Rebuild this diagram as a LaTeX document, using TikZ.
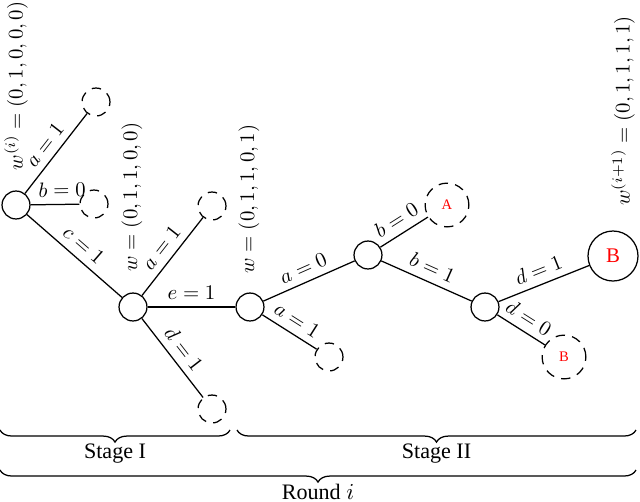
\documentclass[tikz,border=0pt]{standalone}
\usepackage{fontspec}
\newfontfamily\tms{Liberation Serif}
\usetikzlibrary{decorations.pathreplacing}
\begin{document}
\begin{tikzpicture}[x=0.48pt,y=-0.48pt,semithick,
  st/.style={circle,draw,minimum size=13.4pt,inner sep=0pt},
  ds/.style={circle,draw,dash pattern=on 4.5pt off 3.5pt,minimum size=13.4pt,inner sep=0pt},
  dsl/.style={ds,minimum size=21pt,text=red,font=\tms\fontsize{7}{8}\selectfont},
  lab/.style={midway,above,sloped},
  wl/.style={rotate=90},
  br/.style={decorate,decoration={brace,mirror,amplitude=5.8pt}},
  brl/.style={font=\tms\fontsize{10.6}{12}\selectfont}
]
\useasboundingbox (0,0) rectangle (640,501);
\node[st] (r) at (16,205) {};
\node[ds] (r1) at (96,102) {};
\node[ds] (r2) at (94,204) {};
\node[st] (n1) at (133,307) {};
\node[ds] (n1a) at (212,206) {};
\node[ds] (n1d) at (212,409) {};
\node[st] (n2) at (250,307) {};
\node[ds] (n2a) at (329,357) {};
\node[st] (n3) at (368,255) {};
\node[dsl] (A) at (447,205) {A};
\node[st] (n4) at (485,307) {};
\node[st,minimum size=24pt,text=red,font=\tms\fontsize{10}{12}\selectfont] (B) at (613,256) {B};
\node[dsl] (B2) at (564,357) {B};

\draw (r) -- node[lab]{$a=1$} (r1);
\draw (r) -- node[lab,pos=0.65]{$b=0$} (r2);
\draw (r) -- node[lab]{$c=1$} (n1);
\draw (n1) -- node[lab]{$a=1$} (n1a);
\draw (n1) -- node[lab]{$e=1$} (n2);
\draw (n1) -- node[lab]{$d=1$} (n1d);
\draw (n2) -- node[lab]{$a=0$} (n3);
\draw (n2) -- node[lab]{$a=1$} (n2a);
\draw (n3) -- node[lab]{$b=0$} (A);
\draw (n3) -- node[lab]{$b=1$} (n4);
\draw (n4) -- node[lab]{$d=1$} (B);
\draw (n4) -- node[lab]{$d=0$} (B2);

\node[wl] (w0) at (16,86) {$w^{(i)}=(0,1,0,0,0)$};
\node[wl] (w1) at (132,197) {$w=(0,1,1,0,0)$};
\node[wl] (w2) at (249,199) {$w=(0,1,1,0,1)$};
\node[wl] (w3) at (623,111) {$w^{(i+1)}=(0,1,1,1,1)$};

\coordinate (b1s) at (0,430);
\coordinate (b1e) at (230,430);
\coordinate (b2s) at (237,430);
\coordinate (b2e) at (636,430);
\coordinate (b3s) at (0,470);
\coordinate (b3e) at (636,470);
\draw[br] (b1s) -- node[brl,below=3pt] (s1) {Stage I} (b1e);
\draw[br] (b2s) -- node[brl,below=3pt] (s2) {Stage II} (b2e);
\draw[br] (b3s) -- node[brl,below=3pt] (s3) {Round $i$} (b3e);
\end{tikzpicture}
\end{document}
